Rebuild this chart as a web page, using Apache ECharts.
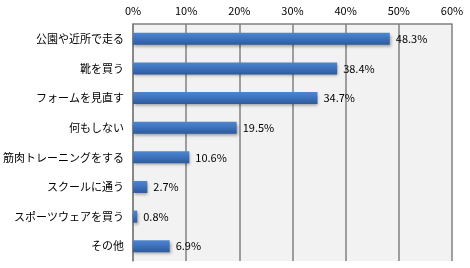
<!DOCTYPE html>
<html><head><meta charset="utf-8">
<script src="https://cdn.jsdelivr.net/npm/echarts@6/dist/echarts.min.js"></script>
<style>html,body{margin:0;padding:0;background:#fff}#c{width:470px;height:268px}</style>
</head><body><div id="c"></div>
<script>
const categories = ['公園や近所で走る','靴を買う','フォームを見直す','何もしない','筋肉トレーニングをする','スクールに通う','スポーツウェアを買う','その他'];
const values = [48.3, 38.4, 34.7, 19.5, 10.6, 2.7, 0.8, 6.9];
const tickLabels = ['0%','10%','20%','30%','40%','50%','60%'];
const chart = echarts.init(document.getElementById('c'));
const font = '"Noto Sans CJK JP", sans-serif';
chart.setOption({
  animation: false,
  grid: {left: 133, right: 18, top: 24, bottom: 7, backgroundColor: '#f2f2f2', show: true, borderWidth: 0,
    containLabel: false, outerBoundsMode: 'none'},
  xAxis: {
    type: 'value', position: 'top', min: 0, max: 60, interval: 10,
    axisLine: {show: true, lineStyle: {color: '#808080', width: 1.5}},
    axisTick: {show: false},
    splitLine: {show: true, lineStyle: {color: '#808080', width: 1.5}},
    axisLabel: {color: '#000', fontSize: 11, fontFamily: font, margin: 8,
      formatter: v => tickLabels[Math.round(v/10)]}
  },
  yAxis: {
    type: 'category', data: categories, inverse: true,
    axisLine: {show: true, lineStyle: {color: '#808080', width: 1.5}},
    axisTick: {show: false},
    axisLabel: {color: '#000', fontSize: 11, fontFamily: font, margin: 9}
  },
  series: [{
    type: 'bar', data: values, barWidth: 12,
    itemStyle: {
      color: new echarts.graphic.LinearGradient(0,0,0,1,[
        {offset:0,color:'#4f86cf'},{offset:0.5,color:'#3d71bc'},{offset:1,color:'#2d5a9c'}]),
      shadowColor: 'rgba(0,0,0,0.35)', shadowBlur: 3, shadowOffsetX: 1, shadowOffsetY: 2
    },
    label: {show: true, position: 'right', distance: 6, color: '#000', fontSize: 11, fontFamily: font,
      formatter: p => p.value.toFixed(1) + '%'}
  }]
});
</script></body></html>
